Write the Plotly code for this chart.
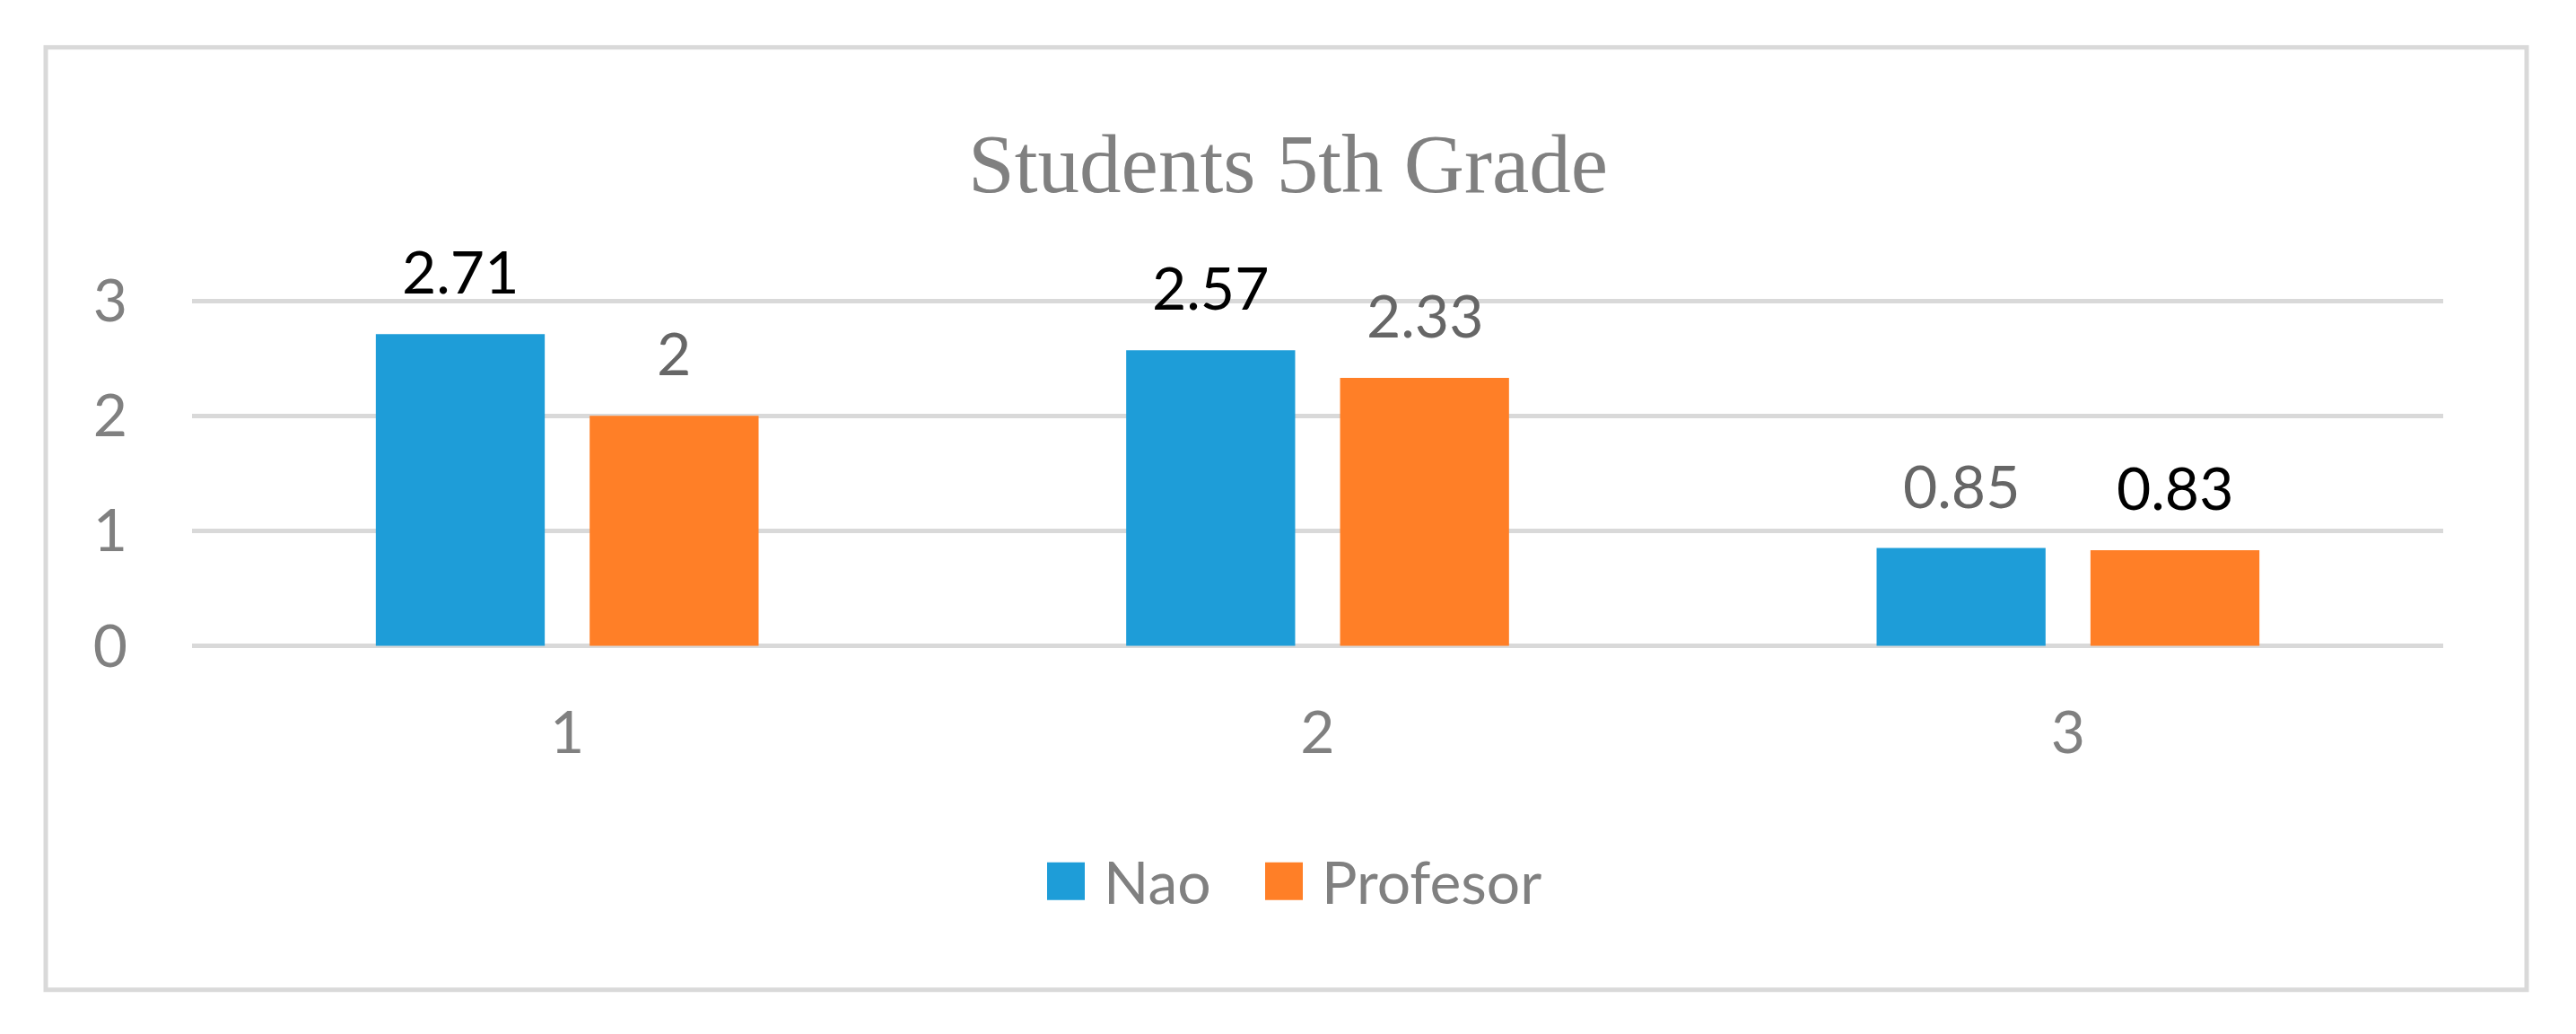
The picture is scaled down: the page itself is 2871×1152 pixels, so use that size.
import plotly.graph_objects as go

categories = [1, 2, 3]
series_names = ["Nao", "Profesor"]
nao_values = [2.71, 2.57, 0.85]
profesor_values = [2, 2.33, 0.83]
y_ticks = [0, 1, 2, 3]
title_text = "Students 5th Grade"

# the value labels are not all the same colour in the source
nao_label_colors = ["#000000", "#000000", "#666666"]
profesor_label_colors = ["#666666", "#666666", "#000000"]

W, H = 2871, 1152
BLUE = "#1e9dd8"
ORANGE = "#ff7f27"
GRID = "#d9d9d9"
GREY = "#808080"
FONT = "Lato"

# plot area in pixels
L, R = 214, 148
Y_MIN, Y_MAX = -0.02, 3.5
UNIT = 128
ZERO_PX = 719
T = ZERO_PX - Y_MAX * UNIT
B = H - (ZERO_PX - Y_MIN * UNIT)
plot_w = W - L - R
plot_h = H - T - B

BARGAP = 0.43
GROUPGAP = 0.21
offset = (1 - BARGAP) / 4


def px_x(px):
    return (px - L) / plot_w


def px_y(py):
    return (H - B - py) / plot_h


fig = go.Figure()
series = [
    (series_names[0], nao_values, BLUE, nao_label_colors, -offset),
    (series_names[1], profesor_values, ORANGE, profesor_label_colors, offset),
]
for name, vals, color, lab_colors, dx in series:
    fig.add_trace(go.Bar(x=categories, y=vals, name=name, marker_color=color,
                         marker_line_width=0, showlegend=False))
    # value labels sit well above the bar tops, as in the Excel original
    for c, v, lc in zip(categories, vals, lab_colors):
        fig.add_annotation(x=c + dx, y=v, text=f"{v:g}", showarrow=False,
                           xanchor="center", yanchor="bottom", yshift=29,
                           font=dict(family=FONT, size=66, color=lc))

# legend drawn by hand so the swatches are as large as in the original
legend_left = [1167, 1410]
SW = 42
LEG_Y = 981
for (name, _, color, _, _), x0 in zip(series, legend_left):
    fig.add_shape(type="rect", xref="paper", yref="paper",
                  x0=px_x(x0), x1=px_x(x0 + SW),
                  y0=px_y(LEG_Y + SW / 2), y1=px_y(LEG_Y - SW / 2),
                  fillcolor=color, line_width=0)
    fig.add_annotation(xref="paper", yref="paper", x=px_x(x0 + SW + 19),
                       y=px_y(LEG_Y), text=name, showarrow=False,
                       xanchor="left", yanchor="middle",
                       font=dict(family=FONT, size=66, color=GREY))

# chart border
fig.add_shape(type="rect", xref="paper", yref="paper",
              x0=px_x(51), x1=px_x(2816), y0=px_y(1102), y1=px_y(53),
              line=dict(color=GRID, width=5), fillcolor="rgba(0,0,0,0)",
              layer="below")

fig.update_layout(
    width=W, height=H,
    margin=dict(l=L, r=R, t=T, b=B, pad=0),
    paper_bgcolor="white", plot_bgcolor="white",
    barmode="group", bargap=BARGAP, bargroupgap=GROUPGAP,
    title=dict(text=title_text, x=0.5, xref="container", xanchor="center",
               y=1 - 181 / H, yref="container", yanchor="middle",
               font=dict(family="Liberation Serif", size=93, color=GREY)),
    xaxis=dict(range=[0.5, 3.5], tickvals=categories, showgrid=False,
               zeroline=False, showline=False, ticks="",
               ticklabelstandoff=50,
               tickfont=dict(family=FONT, size=66, color=GREY)),
    yaxis=dict(range=[Y_MIN, Y_MAX], tickvals=y_ticks, showgrid=True,
               gridcolor=GRID, gridwidth=5, zeroline=True,
               zerolinecolor=GRID, zerolinewidth=5, showline=False,
               ticks="", ticklabelstandoff=71,
               tickfont=dict(family=FONT, size=66, color=GREY)),
)

# drop the browser's default body margin so the figure sits at the page origin
fig.write_html("out.html", config={"displayModeBar": False},
               post_script="document.body.style.margin = '0';")
